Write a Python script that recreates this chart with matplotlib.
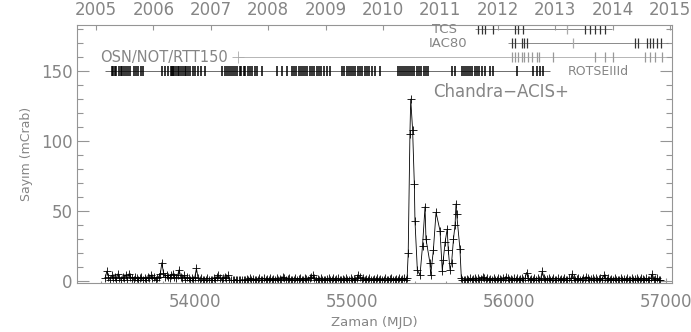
import matplotlib
matplotlib.use("Agg")
import matplotlib.pyplot as plt
from matplotlib.ticker import MultipleLocator
import numpy as np

# ---------------- data ----------------
# quiescent light curve before the outburst (10-day grid)
pre_start, pre_step = 53430, 10
pre_vals = [
    2, 7, 3, 1, 4, 2, 3, 1, 5, 2, 1, 3, 2, 4, 1, 5, 3, 2, 1, 3,
    2, 1, 2, 3, 1, 2, 1, 3, 2, 4, 2, 3, 1, 2, 3, 5, 13, 6, 3, 4,
    3, 2, 4, 5, 3, 2, 4, 8, 3, 2, 4, 1, 3, 2, 1, 2, 1, 3, 9, 2,
    1, 2, 1, 0.5, 1, 2, 1, 0.5, 1, 2, 1, 3, 4, 2, 1, 2, 3, 2, 4, 1,
    0.5, 0.3, 0.5, 1, 0.5, 0.3, 0.5, 1, 0.5, 1, 1.5, 1, 2, 1, 1.5, 1, 0.5, 1, 2, 1,
    1, 2, 1, 1.5, 1, 2, 1, 1.5, 1, 2, 1, 1.5, 1, 3, 2, 1, 1.5, 2, 1, 1,
    1, 2, 1, 1.5, 2, 1, 1, 2, 1.5, 1, 2, 3, 4, 2, 1, 1.5, 1, 2, 1, 1,
    1, 1.5, 2, 1, 1, 2, 1, 1.5, 2, 1, 1, 1.5, 1, 2, 1, 1, 2, 1, 1.5, 1,
    2, 4, 3, 1, 2, 1, 1.5, 1, 2, 1, 1, 1.5, 1, 2, 1, 1.5, 1, 1, 2, 1,
    1, 1.5, 2, 1, 1, 1.5, 1, 2, 1, 1.5, 2, 1,
]
# outburst episode
burst_mjd = [55350, 55357, 55368, 55373, 55385, 55396, 55400, 55415, 55432, 55448,
             55464, 55470, 55495, 55500, 55517, 55534, 55559, 55574, 55580, 55592,
             55605, 55612, 55623, 55633, 55645, 55655, 55661, 55665, 55686, 55695]
burst_vals = [2, 20, 105, 130, 108, 69, 43, 8, 4, 25,
              53, 30, 13, 4, 22, 49, 36, 7, 15, 28,
              37, 22, 8, 13, 30, 40, 55, 48, 23, 2]
# quiescent light curve after the outburst (10-day grid)
post_start, post_step = 55700, 10
post_vals = [
    1, 0.5, 1, 1.5, 1, 2, 1, 1.5, 2, 1, 2, 1, 1.5, 3, 2, 1, 2, 1, 1.5, 1,
    2, 1, 1, 2, 1.5, 1, 2, 1, 3, 2, 1, 1.5, 1, 2, 1, 2, 1, 1.5, 2, 1,
    2, 6, 2, 1, 1.5, 1, 2, 1, 2, 1, 1.5, 7, 2, 1, 1.5, 2, 1, 1, 2, 1,
    1, 2, 1, 1.5, 1, 2, 1, 1, 2, 1, 5, 2, 1, 1.5, 2, 1, 1, 2, 1, 3,
    2, 1, 1.5, 2, 1, 2, 1, 1.5, 2, 1, 4, 2, 1, 2, 1, 1.5, 1, 2, 1, 1,
    1, 2, 1, 1.5, 1, 2, 1, 1, 2, 1, 1.5, 2, 1, 1, 2, 1.5, 1, 2, 1, 1,
    2, 5, 1, 1.5, 2, 1, 0.5,
]

# optical observation epochs (MJD)
rotse_obs = [53473, 53480, 53492, 53500, 53515, 53530, 53538, 53552, 53560, 53575, 53590,
             53612, 53625, 53640, 53655, 53670,
             53791, 53810, 53830, 53845, 53852, 53860, 53870, 53880, 53890, 53900, 53912,
             53925, 53935, 53945, 53958, 53970, 53985, 54000, 54020, 54040, 54064,
             54172, 54190, 54205, 54215, 54230, 54245, 54255, 54270, 54285, 54295, 54310,
             54320, 54335, 54350, 54365, 54380, 54395, 54427,
             54522, 54555, 54586, 54618, 54630, 54645, 54660, 54672, 54690, 54700, 54715,
             54730, 54745, 54760, 54775, 54790, 54805, 54820, 54840, 54859,
             54936, 54950, 54965, 54980, 54992, 55005, 55020, 55035, 55050, 55062, 55080,
             55095, 55110, 55125, 55146, 55177,
             55292, 55305, 55318, 55330, 55340, 55355, 55368, 55380, 55395, 55410, 55425,
             55440, 55455, 55470, 55483, 55635, 55654,
             55699, 55712, 55725, 55740, 55752, 55765, 55780, 55795, 55810, 55825, 55845,
             55877, 55896, 56049, 56151, 56175, 56195, 56214]
rotse_span = [53428, 56259]
osn_obs = [56017, 56036, 56055, 56081, 56093, 56119, 56144, 56176, 56189, 56278,
           56545, 56609, 56660, 56863, 56895, 56927, 56971]
osn_span = [54274, 57003]
iac_obs_dark = [56017, 56036, 56081, 56093, 56112, 56799, 56818, 56876, 56895, 56914,
                56939, 56965]
iac_obs_light = [56405]
iac_span = [55991, 57009]
tcs_obs_dark = [55801, 55826, 55845, 55896, 56036, 56055, 56087, 56481, 56513, 56545,
                56577, 56609]
tcs_obs_light = [56367]
tcs_span = [55782, 56653]

row_levels = {"ROTSEIIId": 150, "OSN/NOT/RTT150": 160, "IAC80": 170, "TCS": 180,
              "Chandra\u2212ACIS": 135}

years = ["2005", "2006", "2007", "2008", "2009", "2010", "2011", "2012", "2013",
         "2014", "2015"]
year_mjd = [53371, 53736, 54101, 54466, 54832, 55197, 55562, 55927, 56293, 56658, 57023]

# ---------------- figure ----------------
GRAY = "#959595"
TXT = "#858585"
plt.rcParams["font.family"] = ["DejaVu Sans"]

fig = plt.figure(figsize=(6.91, 3.32), dpi=100)
ax = fig.add_axes([0.1114, 0.1476, 0.8611, 0.7771])

pre_mjd = pre_start + pre_step * np.arange(len(pre_vals))
post_mjd = post_start + post_step * np.arange(len(post_vals))
t = np.concatenate([pre_mjd, burst_mjd, post_mjd])
v = np.concatenate([pre_vals, burst_vals, post_vals])
ax.plot(t, v, color="black", lw=0.6, marker="+", ms=6, mew=0.6)

half = 3.6
# ROTSE row
y = row_levels["ROTSEIIId"]
ax.hlines(y, *rotse_span, color="#555555", lw=0.6)
ax.vlines(rotse_obs, y - half, y + half, color="black", lw=1.1)
# OSN row
y = row_levels["OSN/NOT/RTT150"]
ax.hlines(y, *osn_span, color="#aaaaaa", lw=0.6)
ax.vlines(osn_obs, y - half, y + half, color="#999999", lw=0.9)
ax.plot([osn_span[0]], [y], marker="+", ms=8, mew=0.6, color="#aaaaaa")
# IAC80 row
y = row_levels["IAC80"]
ax.hlines(y, *iac_span, color="#777777", lw=0.6)
ax.vlines(iac_obs_dark, y - half, y + half, color="#333333", lw=0.9)
ax.vlines(iac_obs_light, y - half, y + half, color="#aaaaaa", lw=0.9)
# TCS row
y = row_levels["TCS"]
ax.hlines(y, *tcs_span, color="#777777", lw=0.6)
ax.vlines(tcs_obs_dark, y - half, y + half, color="#333333", lw=0.9)
ax.vlines(tcs_obs_light, y - half, y + half, color="#aaaaaa", lw=0.9)

# labels for the rows
ax.text(55591, row_levels["TCS"], "TCS", color=TXT, fontsize=9.5, ha="center", va="center")
ax.text(55610, row_levels["IAC80"], "IAC80", color=TXT, fontsize=9.5, ha="center", va="center")
ax.text(53396, row_levels["OSN/NOT/RTT150"], "OSN/NOT/RTT150", color=TXT, fontsize=10.5,
        ha="left", va="center")
ax.text(56373, row_levels["ROTSEIIId"], "ROTSEIIId", color=TXT, fontsize=9, ha="left",
        va="center")
ax.text(55515, row_levels["Chandra\u2212ACIS"], "Chandra\u2212ACIS+", color=TXT, fontsize=12,
        ha="left", va="center")

ax.set_xlim(53250, 57035)
ax.set_ylim(-1.5, 183)
ax.xaxis.set_major_locator(MultipleLocator(1000))
ax.xaxis.set_minor_locator(MultipleLocator(200))
ax.yaxis.set_major_locator(MultipleLocator(50))
ax.yaxis.set_minor_locator(MultipleLocator(10))
ax.xaxis.set_major_formatter(matplotlib.ticker.FuncFormatter(lambda x, p: f"{int(x)}"))

for s in ax.spines.values():
    s.set_color(GRAY)
    s.set_linewidth(0.8)

ax.tick_params(axis="y", which="major", direction="in", length=8.6, width=0.8, color=GRAY,
               left=True, right=True, labelsize=12, labelcolor=TXT, pad=3)
ax.tick_params(axis="y", which="minor", direction="in", length=4.3, width=0.8, color=GRAY,
               left=True, right=True)
ax.tick_params(axis="x", which="major", direction="in", length=3.6, width=0.8, color=GRAY,
               top=False, bottom=True, labelsize=12, labelcolor=TXT, pad=7)
ax.tick_params(axis="x", which="minor", direction="in", length=1.8, width=0.8, color=GRAY,
               top=False, bottom=True)

ax2 = ax.twiny()
ax2.set_xlim(ax.get_xlim())
ax2.set_xticks(year_mjd)
ax2.set_xticklabels(years)
ax2.tick_params(axis="x", direction="in", length=3.6, width=0.8, color=GRAY, labelsize=12,
                labelcolor=TXT, pad=4)
for s in ax2.spines.values():
    s.set_visible(False)

ax.set_xlabel("Zaman (MJD)", fontsize=9.5, color=TXT, labelpad=4)
ax.set_ylabel("Sayım (mCrab)", fontsize=9, color=TXT, labelpad=6)

fig.savefig("out.png", dpi=100)
